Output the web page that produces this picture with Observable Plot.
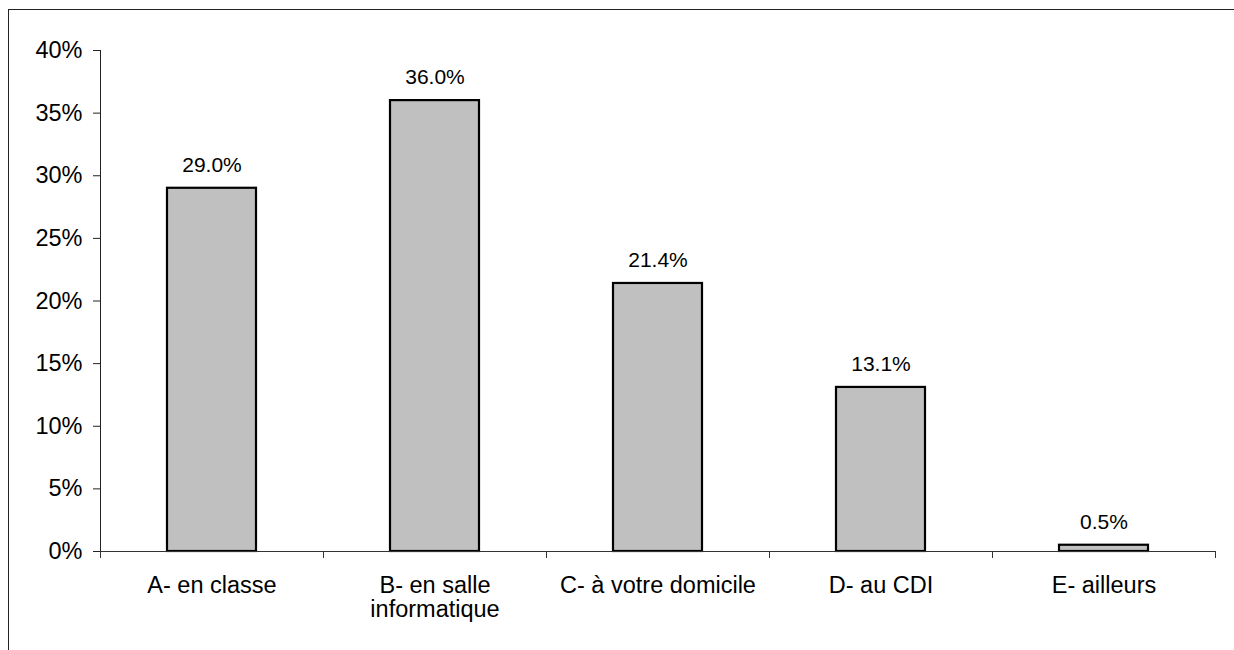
<!DOCTYPE html>
<html>
<head>
<meta charset="utf-8">
<script src="https://cdn.jsdelivr.net/npm/d3@7"></script>
<script src="https://cdn.jsdelivr.net/npm/@observablehq/plot@0.6"></script>
<style>
  html, body { margin: 0; padding: 0; background: white; }
  #wrap { position: relative; width: 1234px; height: 650px; overflow: hidden; }
  #border { position: absolute; left: 8px; top: 9px; width: 2000px; height: 2000px;
            border-left: 1.5px solid #222; border-top: 1.5px solid #222; pointer-events: none; z-index: 2; }
  svg { font-family: Arial, "Liberation Sans", sans-serif; }
</style>
</head>
<body>
<div id="wrap"><div id="border"></div></div>
<script>
const categories = ["A- en classe", "B- en salle\ninformatique", "C- à votre domicile", "D- au CDI", "E- ailleurs"];
const values = [0.290, 0.360, 0.214, 0.131, 0.005];
const valueLabels = ["29.0%", "36.0%", "21.4%", "13.1%", "0.5%"];
const yTicks = [0, 0.05, 0.10, 0.15, 0.20, 0.25, 0.30, 0.35, 0.40];

const data = categories.map((c, i) => ({cat: c, value: values[i], label: valueLabels[i]}));

const W = 1234, H = 650, mL = 100, mR = 19, mT = 50, mB = 99;
const step = (W - mL - mR) / categories.length;
const font = 23.5;

const chart = Plot.plot({
  width: W, height: H,
  marginLeft: mL, marginRight: mR, marginTop: mT, marginBottom: mB,
  style: {fontFamily: "Arial, 'Liberation Sans', sans-serif", fontSize: font + "px", color: "black", background: "white"},
  x: {domain: categories, paddingInner: 0.6, paddingOuter: 0.3, axis: null},
  y: {domain: [0, 0.4], axis: null},
  marks: [
    Plot.barY(data, {x: "cat", y: "value", fill: "#c0c0c0", stroke: "black", strokeWidth: 2.2}),
    Plot.ruleY([0], {stroke: "#333", strokeWidth: 1}),
    Plot.ruleX([categories[0]], {x: d => d, y1: 0, y2: 0.4, dx: -step / 2, stroke: "#222", strokeWidth: 1}),
    Plot.axisY(yTicks, {tickSize: 7, tickPadding: 11, tickFormat: d3.format(".0%"), fontSize: font, label: null, stroke: "#222", fill: "black"}),
    Plot.axisX(categories, {tickSize: 7, dx: -step / 2, tickFormat: () => "", label: null, stroke: "#333"}),
    Plot.axisX([categories[categories.length - 1]], {tickSize: 7, dx: step / 2, tickFormat: () => "", label: null, stroke: "#333"}),
    Plot.text(data, {x: "cat", y: 0, text: "cat", dy: 24, lineAnchor: "top", lineHeight: 24 / font, fontSize: font, fill: "black"}),
    Plot.text(data, {x: "cat", y: "value", text: "label", dy: -23, fontSize: 21, fill: "black"})
  ]
});
document.getElementById("wrap").appendChild(chart);
</script>
</body>
</html>
